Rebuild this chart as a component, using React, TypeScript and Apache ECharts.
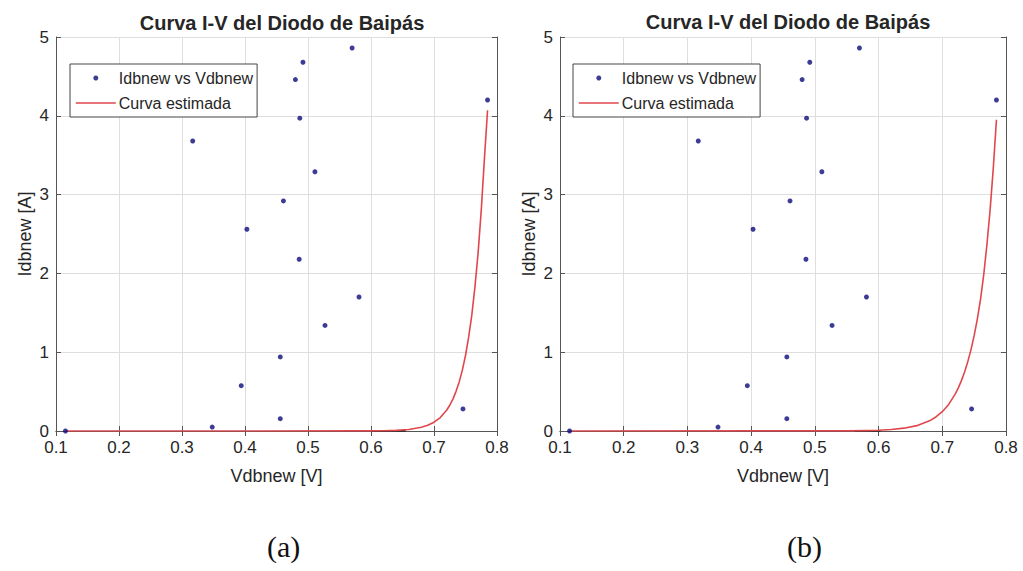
import React, { useEffect, useRef } from "react";
import * as echarts from "echarts";

// Measured points (same in both panels)
const vdb = [0.115, 0.348, 0.394, 0.456, 0.456, 0.486, 0.527, 0.581, 0.746, 0.317, 0.403, 0.461, 0.487, 0.511, 0.480, 0.492, 0.570, 0.785];
const idb = [0.0, 0.05, 0.575, 0.156, 0.94, 2.18, 1.34, 1.70, 0.28, 3.68, 2.56, 2.92, 3.97, 3.29, 4.46, 4.68, 4.86, 4.20];

// Estimated curve, panel (a)
const curveAV = [0.115, 0.58, 0.60, 0.62, 0.64, 0.66, 0.68, 0.69, 0.70, 0.71, 0.72, 0.725, 0.73, 0.735, 0.74, 0.745, 0.75, 0.755, 0.76, 0.765, 0.77, 0.775, 0.78, 0.785];
const curveAI = [0.0, 0.001, 0.0015, 0.0036, 0.0085, 0.02, 0.047, 0.073, 0.112, 0.171, 0.263, 0.327, 0.405, 0.503, 0.623, 0.773, 0.958, 1.19, 1.47, 1.83, 2.26, 2.8, 3.45, 4.07];
// Estimated curve, panel (b)
const curveBV = [0.115, 0.55, 0.58, 0.60, 0.62, 0.64, 0.66, 0.68, 0.69, 0.70, 0.71, 0.72, 0.725, 0.73, 0.735, 0.74, 0.745, 0.75, 0.755, 0.76, 0.765, 0.77, 0.775, 0.78, 0.785];
const curveBI = [0.0, 0.002, 0.005, 0.01, 0.019, 0.036, 0.068, 0.129, 0.178, 0.245, 0.337, 0.464, 0.544, 0.639, 0.75, 0.88, 1.03, 1.21, 1.42, 1.67, 1.98, 2.36, 2.8, 3.33, 3.95];
// dark segment on the baseline
const segAV = [0.6, 0.655];
const segBV = [0.563, 0.603];
const segI = [0, 0];

const title = "Curva I-V del Diodo de Baipás";
const xName = "Vdbnew [V]";
const yName = "Idbnew [A]";
const scatterName = "Idbnew vs Vdbnew";
const curveName = "Curva estimada";
const panelLabels = ["(a)", "(b)"];

const FONT = "'Liberation Sans', Arial, Helvetica, sans-serif";
const TXT = "#262626";
const AXC = "#555555";
const GRID = "#dedede";
const RED = "#e0474c";
const DOT = "#0b0b7a";

const zip = (a: number[], b: number[]) => a.map((v, i) => [v, b[i]]);

export default function App() {
  const ref = useRef<HTMLDivElement>(null);
  useEffect(() => {
    document.body.style.margin = "0";
    const chart = echarts.init(ref.current!, null, { renderer: "svg" });
    const grids = [
      { left: 56, top: 37, width: 441, height: 394 },
      { left: 560, top: 37, width: 446, height: 394 },
    ];
    const xAxes: any[] = [];
    const yAxes: any[] = [];
    grids.forEach((_, gi) => {
      xAxes.push({
        type: "value", gridIndex: gi, min: 0.1, max: 0.8, interval: 0.1, position: "bottom",
        name: xName, nameLocation: "middle", nameGap: 36,
        nameTextStyle: { fontFamily: FONT, fontSize: 18, color: TXT },
        axisLine: { show: true, lineStyle: { color: AXC, width: 1 } },
        axisTick: { show: true, inside: true, length: 5, lineStyle: { color: AXC } },
        axisLabel: { fontFamily: FONT, fontSize: 17, color: TXT, margin: 8, formatter: (v: number) => v.toFixed(1) },
        splitLine: { show: true, lineStyle: { color: GRID, width: 1 } },
      });
      xAxes.push({
        type: "value", gridIndex: gi, min: 0.1, max: 0.8, interval: 0.1, position: "top",
        axisLine: { show: true, lineStyle: { color: AXC, width: 1 } },
        axisTick: { show: true, inside: true, length: 5, lineStyle: { color: AXC } },
        axisLabel: { show: false }, splitLine: { show: false },
      });
      yAxes.push({
        type: "value", gridIndex: gi, min: 0, max: 5, interval: 1, position: "left",
        name: yName, nameLocation: "middle", nameGap: 22, nameRotate: 90,
        nameTextStyle: { fontFamily: FONT, fontSize: 18, color: TXT },
        axisLine: { show: true, lineStyle: { color: AXC, width: 1 } },
        axisTick: { show: true, inside: true, length: 5, lineStyle: { color: AXC } },
        axisLabel: { fontFamily: FONT, fontSize: 17, color: TXT, margin: 7 },
        splitLine: { show: true, lineStyle: { color: GRID, width: 1 } },
      });
      yAxes.push({
        type: "value", gridIndex: gi, min: 0, max: 5, interval: 1, position: "right",
        axisLine: { show: true, lineStyle: { color: AXC, width: 1 } },
        axisTick: { show: true, inside: true, length: 5, lineStyle: { color: AXC } },
        axisLabel: { show: false }, splitLine: { show: false },
      });
    });

    const curves = [zip(curveAV, curveAI), zip(curveBV, curveBI)];
    const segs = [zip(segAV, segI), zip(segBV, segI)];
    const series: any[] = [];
    grids.forEach((_, gi) => {
      series.push({
        type: "line", name: curveName, xAxisIndex: gi * 2, yAxisIndex: gi * 2,
        data: curves[gi], smooth: false, showSymbol: false, symbol: "none",
        lineStyle: { color: RED, width: 1.6, join: "round" }, itemStyle: { color: RED }, z: 3,
      });
      series.push({
        type: "line", name: "seg" + gi, xAxisIndex: gi * 2, yAxisIndex: gi * 2,
        data: segs[gi], showSymbol: false, symbol: "none",
        lineStyle: { color: "#333333", width: 2 }, z: 2,
      });
      series.push({
        type: "scatter", name: scatterName, xAxisIndex: gi * 2, yAxisIndex: gi * 2,
        data: zip(vdb, idb), symbol: "circle", symbolSize: 5,
        itemStyle: { color: DOT }, z: 4,
      });
    });

    const legendBase = (left: number) => ({
      left, top: 64, orient: "vertical",
      data: [
        { name: scatterName, icon: "circle", itemStyle: { color: DOT } },
        { name: curveName, itemStyle: { opacity: 0 }, lineStyle: { color: RED, width: 1.6 } },
      ],
      itemWidth: 40, itemHeight: 5, itemGap: 9,
      padding: [6, 4, 6, 5],
      backgroundColor: "#ffffff", borderColor: "#444444", borderWidth: 1,
      textStyle: { fontFamily: FONT, fontSize: 16, color: TXT, lineHeight: 16, padding: [0, 0, 0, -2] },
      selectedMode: false,
    });

    chart.setOption({
      animation: false,
      backgroundColor: "#ffffff",
      title: [
        { text: title, left: 277, top: 8, textAlign: "center", textStyle: { fontFamily: FONT, fontSize: 20, fontWeight: "bold", color: TXT } },
        { text: title, left: 783, top: 7, textAlign: "center", textStyle: { fontFamily: FONT, fontSize: 20, fontWeight: "bold", color: TXT } },
      ],
      legend: [legendBase(70), legendBase(573)],
      grid: grids.map((g) => ({ ...g, show: false })),
      xAxis: xAxes,
      yAxis: yAxes,
      series,
      graphic: [
        { type: "text", left: 267, top: 531, style: { text: panelLabels[0], font: "30px 'Liberation Serif', 'Times New Roman', serif", fill: "#111111" } },
        { type: "text", left: 787, top: 531, style: { text: panelLabels[1], font: "30px 'Liberation Serif', 'Times New Roman', serif", fill: "#111111" } },
      ],
    });
    return () => chart.dispose();
  }, []);
  return <div ref={ref} style={{ width: 1023, height: 571 }} />;
}
